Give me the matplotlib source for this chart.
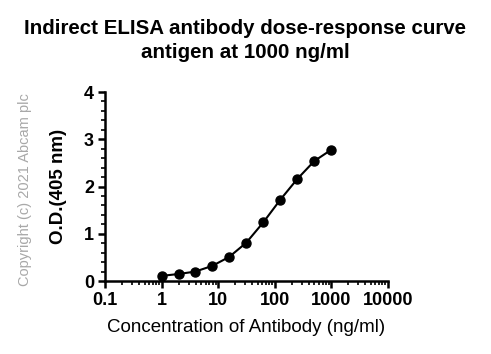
import matplotlib
matplotlib.use("Agg")
import matplotlib.pyplot as plt
from matplotlib.ticker import LogLocator, FixedLocator, NullFormatter

plt.rcParams['font.family'] = ['Liberation Sans', 'DejaVu Sans']

conc = [1, 2, 3.9, 7.8, 15.6, 31.25, 62.5, 125, 250, 500, 1000]
od = [0.11, 0.15, 0.20, 0.32, 0.51, 0.81, 1.24, 1.72, 2.16, 2.54, 2.78]
xticks = [0.1, 1, 10, 100, 1000, 10000]
xticklabels = ["0.1", "1", "10", "100", "1000", "10000"]
yticks = [0, 1, 2, 3, 4]

fig = plt.figure(figsize=(4.91, 3.54), dpi=100)
ax = fig.add_axes([0.214, 0.206, 0.576, 0.534])

ax.plot(conc, od, color="black", lw=1.5, marker="o", ms=6.5, clip_on=False, zorder=3)

ax.set_xscale("log")
ax.set_xlim(0.1, 10000)
ax.set_ylim(0, 4)
ax.set_xticks(xticks)
ax.set_xticklabels(xticklabels)
ax.xaxis.set_minor_locator(LogLocator(base=10, subs=range(2, 10), numticks=20))
ax.xaxis.set_minor_formatter(NullFormatter())
ax.set_yticks(yticks)
ax.yaxis.set_minor_locator(FixedLocator([i * 0.2 for i in range(21)]))

for s in ["top", "right"]:
    ax.spines[s].set_visible(False)
for s in ["left", "bottom"]:
    ax.spines[s].set_linewidth(1.8)

ax.tick_params(which="major", length=5, width=1.8, labelsize=13, pad=3)
ax.tick_params(which="minor", length=3, width=1.2)
for lab in ax.get_xticklabels() + ax.get_yticklabels():
    lab.set_fontweight("bold")

ax.set_xlabel("Concentration of Antibody (ng/ml)", fontsize=13.5, labelpad=7)
ax.set_ylabel("O.D.(405 nm)", fontsize=13.5, fontweight="bold", labelpad=12)

fig.text(0.5, 0.885, "Indirect ELISA antibody dose-response curve\nantigen at 1000 ng/ml",
         ha="center", va="center", fontsize=14.8, fontweight="bold", linespacing=1.3)
fig.text(0.05, 0.465, "Copyright (c) 2021 Abcam plc", rotation=90, ha="center", va="center",
         fontsize=10.5, color="#a8a8a8")

fig.savefig("out.png", dpi=100)
